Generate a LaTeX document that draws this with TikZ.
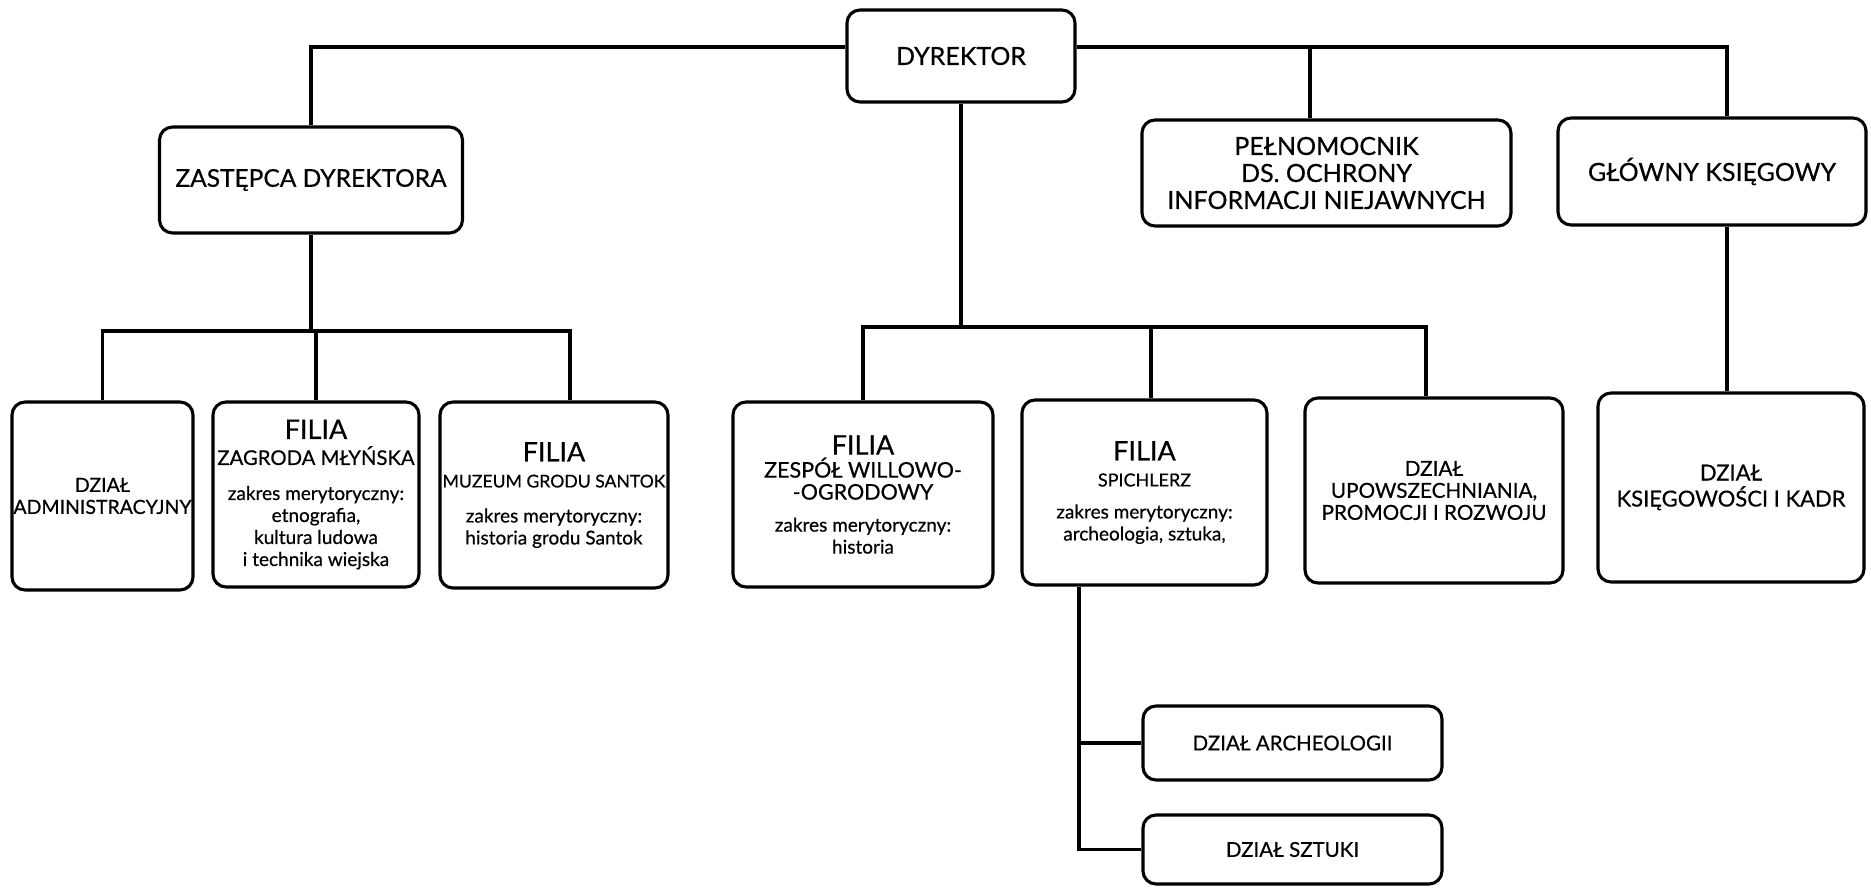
\documentclass[tikz,border=0pt]{standalone}
\usepackage{fontspec}
\setmainfont{Lato}[FakeBold=0.5]
\newcommand\fsz[1]{\fontsize{#1}{22}\selectfont}
\newcommand\ftop{\fontsize{25}{27}\selectfont}
\newcommand\fbig{\fontsize{27}{30}\selectfont}
\newcommand\fsm{\fontsize{19}{22}\selectfont}
\begin{document}
\begin{tikzpicture}[x=1pt,y=-1pt,
  box/.style={draw, line width=3.1pt, rounded corners=13pt, align=center, inner sep=0pt, font=\fsm},
  ln/.style={line width=3.1pt}]
\useasboundingbox[fill=white] (0,0) rectangle (1871,887);
% top level
\node[box, minimum width=228pt, minimum height=92pt, font=\ftop] (dyr) at (961,56) {DYREKTOR};
\node[box, minimum width=303pt, minimum height=106pt, font=\fontsize{24.5}{27}\selectfont] (zast) at (311,180) {ZASTĘPCA DYREKTORA};
\node[box, minimum width=369pt, minimum height=106pt, font=\ftop] (pel) at (1326.5,173) {PEŁNOMOCNIK\\DS. OCHRONY\\INFORMACJI NIEJAWNYCH};
\node[box, minimum width=308pt, minimum height=107pt, font=\ftop] (glow) at (1712,171.5) {GŁÓWNY KSIĘGOWY};
% second level
\node[box, minimum width=181pt, minimum height=188pt, font=\fontsize{19.5}{22}\selectfont] (adm) at (102.5,496) {DZIAŁ\\ADMINISTRACYJNY};
\node[box, minimum width=206pt, minimum height=185pt] (zag) at (316,494.5)
  {\fbig FILIA\\[4pt]\fsz{20.3}ZAGRODA MŁYŃSKA\\[13pt]\fsm zakres merytoryczny:\\\fsm etnografia,\\\fsm kultura ludowa\\\fsm i technika wiejska};
\node[box, minimum width=228pt, minimum height=186pt] (muz) at (554,495)
  {\fbig FILIA\\[4pt]\fsz{17.6}MUZEUM GRODU SANTOK\\[13pt]\fsm zakres merytoryczny:\\\fsm historia grodu Santok};
\node[box, minimum width=260pt, minimum height=185pt] (zes) at (863,494.5)
  {\fbig FILIA\\[1pt]\fsz{21.5}ZESPÓŁ WILLOWO-\\\fsz{21.5}-OGRODOWY\\[10pt]\fsm zakres merytoryczny:\\\fsm historia};
\node[box, minimum width=245pt, minimum height=185pt] (spi) at (1144.5,492.5)
  {\fbig FILIA\\[4pt]\fsz{18}SPICHLERZ\\[10pt]\fsm zakres merytoryczny:\\\fsm archeologia, sztuka,};
\node[box, minimum width=258pt, minimum height=185pt, font=\fontsize{20.7}{22}\selectfont] (upo) at (1434,490.5)
  {DZIAŁ\\UPOWSZECHNIANIA,\\PROMOCJI I ROZWOJU};
\node[box, minimum width=266pt, minimum height=189pt, font=\fontsize{22}{26}\selectfont] (ksi) at (1731,487.5)
  {DZIAŁ\\KSIĘGOWOŚCI I KADR};
% third level
\node[box, minimum width=299pt, minimum height=74pt, font=\fontsize{20.5}{22}\selectfont] (arc) at (1292.5,743) {DZIAŁ ARCHEOLOGII};
\node[box, minimum width=299pt, minimum height=69pt, font=\fontsize{20.5}{22}\selectfont] (szt) at (1292.5,849.5) {DZIAŁ SZTUKI};
% helper coordinates
\coordinate (topy) at (0,47);
\coordinate (zy) at (0,331);
\coordinate (dy) at (0,327);
\coordinate (pelx) at (1310,0);
\coordinate (ksx) at (1727,0);
\coordinate (muzx) at (570,0);
\coordinate (spix) at (1151,0);
\coordinate (upox) at (1426,0);
\coordinate (sx) at (1079,0);
% connectors
\draw[ln] (dyr.west |- topy) -| (zast.north);
\draw[ln] (dyr.east |- topy) -| (ksx |- glow.north);
\draw[ln] (pelx |- pel.north) -- (pelx |- topy);
\draw[ln] (ksx |- glow.south) -- (ksx |- ksi.north);
\draw[ln] (zast.south) -- (zast.south |- zy);
\draw[ln] (adm.north) -- (adm.north |- zy) -- (muzx |- zy) -- (muzx |- muz.north);
\draw[ln] (zag.north |- zy) -- (zag.north);
\draw[ln] (dyr.south) -- (dyr.south |- dy);
\draw[ln] (zes.north) -- (zes.north |- dy) -- (upox |- dy) -- (upox |- upo.north);
\draw[ln] (spix |- dy) -- (spix |- spi.north);
\draw[ln] (sx |- spi.south) |- (szt.west);
\draw[ln] (sx |- arc.west) -- (arc.west);
\end{tikzpicture}
\end{document}
